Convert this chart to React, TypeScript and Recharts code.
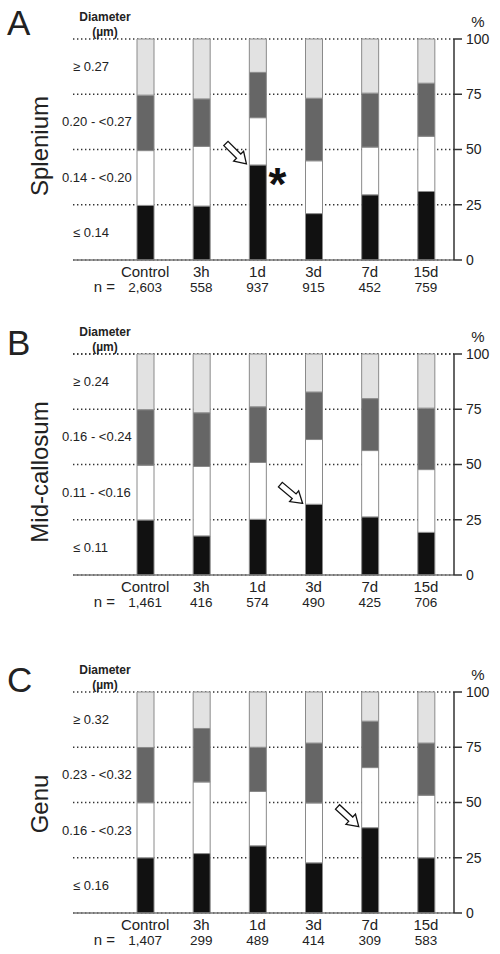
import React from "react"
import { Bar, BarChart, CartesianGrid, ReferenceDot, XAxis, YAxis } from "recharts"

const TIMEPOINTS = ["Control", "3h", "1d", "3d", "7d", "15d"]
const PCT_TICKS = [0, 25, 50, 75, 100]
const BAND_MIDS = [12.5, 37.5, 62.5, 87.5]

// Splenium
const splN = ["2,603", "558", "937", "915", "452", "759"]
const splRanges = ["≤ 0.14", "0.14 - <0.20", "0.20 - <0.27", "≥ 0.27"]
const splSmall = [24.7, 24.4, 43.0, 21.0, 29.5, 31.0]
const splMid = [24.8, 27.0, 21.4, 23.9, 21.6, 25.0]
const splLarge = [25.1, 21.5, 20.5, 28.3, 24.4, 24.0]
const splXL = [25.4, 27.1, 15.1, 26.8, 24.5, 20.0]

// Mid-callosum
const midN = ["1,461", "416", "574", "490", "425", "706"]
const midRanges = ["≤ 0.11", "0.11 - <0.16", "0.16 - <0.24", "≥ 0.24"]
const midSmall = [24.9, 17.7, 25.2, 32.0, 26.3, 19.3]
const midMid = [24.8, 31.4, 25.7, 29.3, 30.0, 28.4]
const midLarge = [25.1, 24.3, 25.2, 21.5, 23.5, 27.8]
const midXL = [25.2, 26.6, 23.9, 17.2, 20.2, 24.5]

// Genu
const genN = ["1,407", "299", "489", "414", "309", "583"]
const genRanges = ["≤ 0.16", "0.16 - <0.23", "0.23 - <0.32", "≥ 0.32"]
const genSmall = [25.0, 26.9, 30.4, 22.7, 38.6, 25.0]
const genMid = [24.9, 32.4, 24.6, 27.1, 27.2, 28.3]
const genLarge = [25.0, 24.2, 20.0, 27.1, 21.0, 23.6]
const genXL = [25.1, 16.5, 25.0, 23.1, 13.2, 23.1]

const FONT = "Arial, 'Liberation Sans', sans-serif"
const INK = "#222"
const COLORS = ["#111111", "#ffffff", "#666666", "#e2e2e2"]
const SERIES = ["small", "mid", "large", "xl"]

const buildRows = (s: number[], m: number[], l: number[], xl: number[]) =>
  TIMEPOINTS.map((t, i) => ({ time: t, small: s[i], mid: m[i], large: l[i], xl: xl[i] }))

const arrowShape = (angle: number, len: number) => (props: any) => {
  const { cx, cy } = props
  const tipX = cx - 11
  const tipY = cy - 1
  const hl = 11
  const hw = 7
  const sw = 3
  const pts = [
    [0, 0],
    [-hl, hw],
    [-hl, sw],
    [-len, sw],
    [-len, -sw],
    [-hl, -sw],
    [-hl, -hw],
  ]
    .map((p) => p.join(","))
    .join(" ")
  return (
    <polygon
      points={pts}
      transform={`translate(${tipX},${tipY}) rotate(${angle})`}
      fill="#fff"
      stroke="#111"
      strokeWidth={1.3}
      strokeLinejoin="miter"
    />
  )
}

const starShape = (props: any) => {
  const { cx, cy } = props
  return (
    <text x={cx + 20} y={cy + 35} textAnchor="middle" fontFamily={FONT} fontWeight="bold" fontSize={46} fill="#111">
      *
    </text>
  )
}

// range label pinned to the left margin, vertical position from the % scale
const rangeShape = (label: string) => (props: any) => {
  const { cy } = props
  const plain = label.startsWith("≤") || label.startsWith("≥")
  return (
    <text x={plain ? 73 : 62} y={cy + 4.5} textAnchor="start" fontFamily={FONT} fontSize={13} fill={INK}>
      {label}
    </text>
  )
}

interface PanelProps {
  top: number
  letter: string
  letterY: number
  title: string
  titleY: number
  ranges: string[]
  ns: string[]
  rows: any[]
  arrowAt: string
  arrowY: number
  arrowAngle: number
  star?: boolean
}

function Panel(p: PanelProps) {
  const W = 500
  const H = 300

  const CategoryTick = (props: any) => {
    const { x, y, payload, index } = props
    return (
      <g fontFamily={FONT} fill={INK}>
        <text x={x} y={y + 17} textAnchor="middle" fontSize={15}>
          {payload.value}
        </text>
        <text x={x} y={y + 32} textAnchor="middle" fontSize={13.5}>
          {p.ns[index]}
        </text>
        {index === 0 && (
          <text x={x - 30} y={y + 32} textAnchor="end" fontSize={15}>
            n =
          </text>
        )}
      </g>
    )
  }

  return (
    <div style={{ position: "absolute", left: 0, top: p.top, width: W, height: H }}>
      <BarChart width={W} height={H} data={p.rows} margin={{ top: 39, right: 0, bottom: 0, left: 73 }} barSize={17}>
        <CartesianGrid
          yAxisId="pct"
          vertical={false}
          stroke="#333"
          strokeWidth={1.4}
          strokeDasharray="1.4 2.6"
        />
        <XAxis
          dataKey="time"
          padding={{ left: 44, right: 0 }}
          height={40}
          tickSize={0}
          tickMargin={0}
          axisLine={{ stroke: "#777", strokeWidth: 1.5 }}
          tickLine={false}
          tick={<CategoryTick />}
          interval={0}
        />
        <YAxis
          yAxisId="pct"
          orientation="right"
          width={46}
          domain={[0, 100]}
          ticks={PCT_TICKS}
          interval={0}
          axisLine={{ stroke: "#333", strokeWidth: 1.5 }}
          tickLine={{ stroke: "#333", strokeWidth: 1.5 }}
          tickSize={8}
          tickMargin={4}
          tick={{ fontSize: 14, fill: INK, fontFamily: FONT }}
        />
        {SERIES.map((key, i) => (
          <Bar
            key={key}
            yAxisId="pct"
            dataKey={key}
            stackId="d"
            fill={COLORS[i]}
            stroke="#8a8a8a"
            strokeWidth={1}
            isAnimationActive={false}
          />
        ))}
        {BAND_MIDS.map((v, i) => (
          <ReferenceDot
            key={`r${i}`}
            yAxisId="pct"
            x={TIMEPOINTS[0]}
            y={v}
            r={0}
            ifOverflow="visible"
            shape={rangeShape(p.ranges[i])}
          />
        ))}
        <ReferenceDot
          yAxisId="pct"
          x={p.arrowAt}
          y={p.arrowY}
          r={0}
          shape={arrowShape(p.arrowAngle, 29)}
        />
        {p.star && <ReferenceDot yAxisId="pct" x={p.arrowAt} y={p.arrowY} r={0} shape={starShape} />}
      </BarChart>
      <svg width={W} height={H} style={{ position: "absolute", left: 0, top: 0, pointerEvents: "none" }}>
        <g fontFamily={FONT} fill={INK}>
          <text x={7} y={p.letterY} fontSize={35}>
            {p.letter}
          </text>
          <text x={105} y={21} textAnchor="middle" fontSize={12} fontWeight="bold">
            Diameter
          </text>
          <text x={105} y={36} textAnchor="middle" fontSize={12} fontWeight="bold">
            (µm)
          </text>
          <text x={478} y={27} textAnchor="middle" fontSize={15}>
            %
          </text>
          <text
            x={39}
            y={p.titleY}
            textAnchor="middle"
            dominantBaseline="central"
            fontSize={24}
            transform={`rotate(-90 39 ${p.titleY})`}
          >
            {p.title}
          </text>
        </g>
      </svg>
    </div>
  )
}

export default function App() {
  return (
    <div style={{ position: "absolute", left: 0, top: 0, width: 500, height: 954, background: "#fff" }}>
      <Panel
        top={0}
        letter="A"
        letterY={35}
        title="Splenium"
        titleY={146}
        ranges={splRanges}
        ns={splN}
        rows={buildRows(splSmall, splMid, splLarge, splXL)}
        arrowAt="1d"
        arrowY={splSmall[2]}
        arrowAngle={45}
        star
      />
      <Panel
        top={315}
        letter="B"
        letterY={40}
        title="Mid-callosum"
        titleY={157}
        ranges={midRanges}
        ns={midN}
        rows={buildRows(midSmall, midMid, midLarge, midXL)}
        arrowAt="3d"
        arrowY={midSmall[3]}
        arrowAngle={40}
      />
      <Panel
        top={653}
        letter="C"
        letterY={39}
        title="Genu"
        titleY={151}
        ranges={genRanges}
        ns={genN}
        rows={buildRows(genSmall, genMid, genLarge, genXL)}
        arrowAt="7d"
        arrowY={genSmall[4]}
        arrowAngle={43}
      />
    </div>
  )
}
